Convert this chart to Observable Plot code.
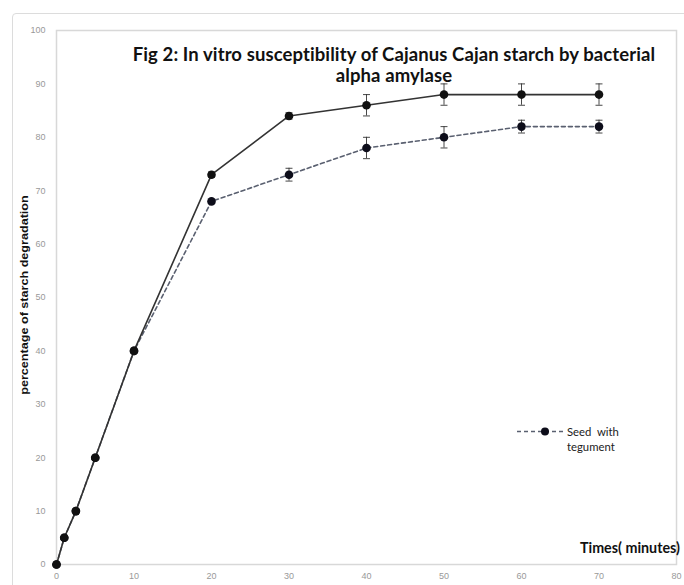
<!DOCTYPE html>
<html>
<head>
<meta charset="utf-8">
<script src="https://cdn.jsdelivr.net/npm/d3@7"></script>
<script src="https://cdn.jsdelivr.net/npm/@observablehq/plot@0.6"></script>
<style>
  html, body { margin: 0; padding: 0; background: #fff; }
  #wrap { position: relative; width: 684px; height: 585px; overflow: hidden; }
  #border { position: absolute; left: 12px; top: 13px; width: 690px; height: 600px; border: 1px solid #dcdcdc; border-radius: 4px; }
  #title { position: absolute; left: 110px; width: 568px; top: 44px; text-align: center; font-family: Lato, "Open Sans", sans-serif; font-weight: bold; font-size: 18.5px; line-height: 21px; color: #111; letter-spacing: 0.1px; }
  #ylab { position: absolute; left: 24px; top: 295px; transform: translate(-50%, -50%) rotate(-90deg) scale(1.2, 1); white-space: nowrap; font-family: "Liberation Sans", Arial, sans-serif; font-weight: bold; font-size: 10.5px; color: #111; }
  #xlab { position: absolute; left: 580px; top: 539px; white-space: nowrap; font-family: Lato, sans-serif; font-weight: bold; font-size: 14.3px; color: #111; }
  #legend { position: absolute; left: 515px; top: 424px; font-family: Lato, sans-serif; font-size: 11.3px; color: #222; line-height: 15px; }
  #legend svg { position: absolute; left: 0; top: 0; }
  #legend .txt { position: absolute; left: 52px; top: 0; white-space: pre; }
  svg.plot { position: absolute; left: 0; top: 0; }
</style>
</head>
<body>
<div id="wrap">
  <div id="border"></div>
  <div id="chart"></div>
  <div id="title">Fig 2: In vitro susceptibility of Cajanus Cajan starch by bacterial<br>alpha amylase</div>
  <div id="ylab">percentage of starch degradation</div>
  <div id="xlab">Times( minutes)</div>
  <div id="legend"></div>
</div>
<script>
const times = [0, 1, 2.5, 5, 10, 20, 30, 40, 50, 60, 70];
const seedWithout = [0, 5, 10, 20, 40, 73, 84, 86, 88, 88, 88];
const errWithout = [0, 0, 0, 0, 0, 0.5, 0.6, 2, 2, 2, 2];
const seedWith = [0, 5, 10, 20, 40, 68, 73, 78, 80, 82, 82];
const errWith = [0, 0, 0, 0, 0, 0, 1.2, 2, 2, 1.2, 1.2];
const legendLabel = ["Seed  with", "tegument"];
const xTicks = [0, 10, 20, 30, 40, 50, 60, 70, 80];
const yTicks = [0, 10, 20, 30, 40, 50, 60, 70, 80, 90, 100];

const s1 = times.map((t, i) => ({x: t, y: seedWithout[i], e: errWithout[i]}));
const s2 = times.map((t, i) => ({x: t, y: seedWith[i], e: errWith[i]}));
const capW = 0.45;
const eb1 = s1.filter(d => d.e > 0);
const eb2 = s2.filter(d => d.e > 0);

const plot = Plot.plot({
  width: 684,
  height: 585,
  marginLeft: 56,
  marginRight: 8,
  marginTop: 30,
  marginBottom: 21,
  style: {fontFamily: "Liberation Sans, Arial, sans-serif", fontSize: "9px", color: "#999", background: "transparent"},
  x: {domain: [0, 80], ticks: xTicks, tickSize: 0, tickPadding: 8, label: null},
  y: {domain: [0, 100], ticks: yTicks, tickSize: 0, tickPadding: 11, label: null},
  marks: [
    Plot.frame({stroke: "#d8d8d8", strokeWidth: 1.5}),
    // error bars series 2
    Plot.ruleX(eb2, {x: "x", y1: d => d.y - d.e, y2: d => d.y + d.e, stroke: "#333", strokeWidth: 0.9}),
    Plot.link(eb2, {x1: d => d.x - capW, x2: d => d.x + capW, y1: d => d.y - d.e, y2: d => d.y - d.e, stroke: "#333", strokeWidth: 0.9}),
    Plot.link(eb2, {x1: d => d.x - capW, x2: d => d.x + capW, y1: d => d.y + d.e, y2: d => d.y + d.e, stroke: "#333", strokeWidth: 0.9}),
    // error bars series 1
    Plot.ruleX(eb1, {x: "x", y1: d => d.y - d.e, y2: d => d.y + d.e, stroke: "#333", strokeWidth: 0.9}),
    Plot.link(eb1, {x1: d => d.x - capW, x2: d => d.x + capW, y1: d => d.y - d.e, y2: d => d.y - d.e, stroke: "#333", strokeWidth: 0.9}),
    Plot.link(eb1, {x1: d => d.x - capW, x2: d => d.x + capW, y1: d => d.y + d.e, y2: d => d.y + d.e, stroke: "#333", strokeWidth: 0.9}),
    Plot.line(s2, {x: "x", y: "y", stroke: "#5a6070", strokeWidth: 1.6, strokeDasharray: "4,3"}),
    Plot.line(s1, {x: "x", y: "y", stroke: "#333", strokeWidth: 1.6}),
    Plot.dot(s2, {x: "x", y: "y", r: 4.3, fill: "#0d0d1a", stroke: "none"}),
    Plot.dot(s1, {x: "x", y: "y", r: 4.3, fill: "#111", stroke: "none"})
  ]
});
plot.classList.add("plot");
document.getElementById("chart").appendChild(plot);

// legend
const leg = document.getElementById("legend");
const ls = d3.create("svg").attr("width", 50).attr("height", 15);
ls.append("line").attr("x1", 2).attr("x2", 48).attr("y1", 7.5).attr("y2", 7.5)
  .attr("stroke", "#5a6070").attr("stroke-width", 1.4).attr("stroke-dasharray", "4,3");
ls.append("circle").attr("cx", 30).attr("cy", 7.5).attr("r", 4).attr("fill", "#0d0d1a");
leg.appendChild(ls.node());
const txt = document.createElement("div");
txt.className = "txt";
txt.innerHTML = legendLabel.join("<br>");
leg.appendChild(txt);
</script>
</body>
</html>
